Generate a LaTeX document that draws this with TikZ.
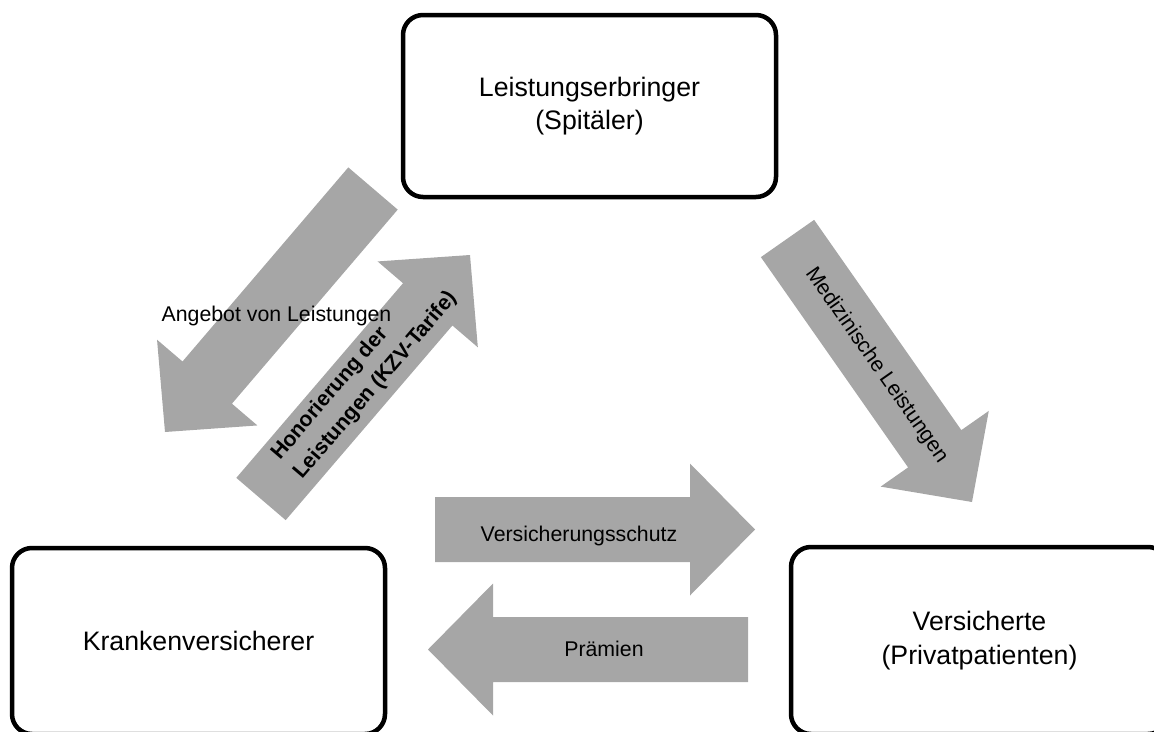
\documentclass[tikz,border=0pt]{standalone}
\usepackage{fontspec}
\setmainfont{Liberation Sans}
\usetikzlibrary{calc}
\definecolor{arrowgray}{HTML}{A6A6A6}
\tikzset{
  box/.style={draw=black, line width=4.5pt, rounded corners=20pt,
    minimum width=373pt, inner sep=0pt,
    font=\fontsize{26.7}{33.5}\selectfont, align=center},
  arrowtext/.style={font=\fontsize{21.3}{27}\selectfont, inner sep=0pt},
  arrowfill/.style={fill=arrowgray, draw=none},
}
% #1 tail coordinate, #2 tip coordinate
\newcommand{\blockarr}[2]{%
  \coordinate (#1-h) at ($(#2)!65pt!(#1)$);
  \fill[arrowfill] ($(#1)!32.5pt!90:(#2)$) -- ($(#1-h)!32.5pt!90:(#2)$)
    -- ($(#1-h)!66pt!90:(#2)$) -- (#2) -- ($(#1-h)!66pt!-90:(#2)$)
    -- ($(#1-h)!32.5pt!-90:(#2)$) -- ($(#1)!32.5pt!-90:(#2)$) -- cycle;
}
\begin{document}
\begin{tikzpicture}[x=1pt, y=-1pt]
\useasboundingbox (0,0) rectangle (1154,731);
\clip (0,0) rectangle (1154,731);

% boxes
\node[box, minimum height=182pt] (le) at (589.5,106) {Leistungserbringer\\(Spitäler)};
\node[box, minimum height=186pt] (kv) at (198.5,641) {Krankenversicherer};
\node[box, minimum height=187pt, minimum width=377pt] (vs) at (979.5,640.5) {Versicherte\\(Privatpatienten)};

% arrow end points
\coordinate (aT) at (373,188.5);   \coordinate (aP) at (165,432);
\coordinate (bT) at (261,499);     \coordinate (bP) at (470,255);
\coordinate (cT) at (787.5,238.5); \coordinate (cP) at (972,502);
\coordinate (dT) at (435,529.5);   \coordinate (dP) at (755,529.5);
\coordinate (eT) at (748,649.5);   \coordinate (eP) at (428,649.5);

\blockarr{aT}{aP}
\blockarr{bT}{bP}
\blockarr{cT}{cP}
\blockarr{dT}{dP}
\blockarr{eT}{eP}

% labels
\node[arrowtext, anchor=base] (la) at (276.5,321.5) {Angebot von Leistungen};
\node[arrowtext, font=\fontsize{21.3}{29.5}\selectfont\bfseries, align=left,
      anchor=west, rotate=49.5] (lb) at (287,467) {Honorierung der\\Leistungen (KZV-Tarife)};
\node[arrowtext, rotate=-55] (lc) at (876.4,365.4) {Medizinische Leistungen};
\node[arrowtext, anchor=base] (ld) at (579,541.5) {Versicherungsschutz};
\node[arrowtext, anchor=base] (lf) at (604,656.5) {Prämien};
\end{tikzpicture}
\end{document}
